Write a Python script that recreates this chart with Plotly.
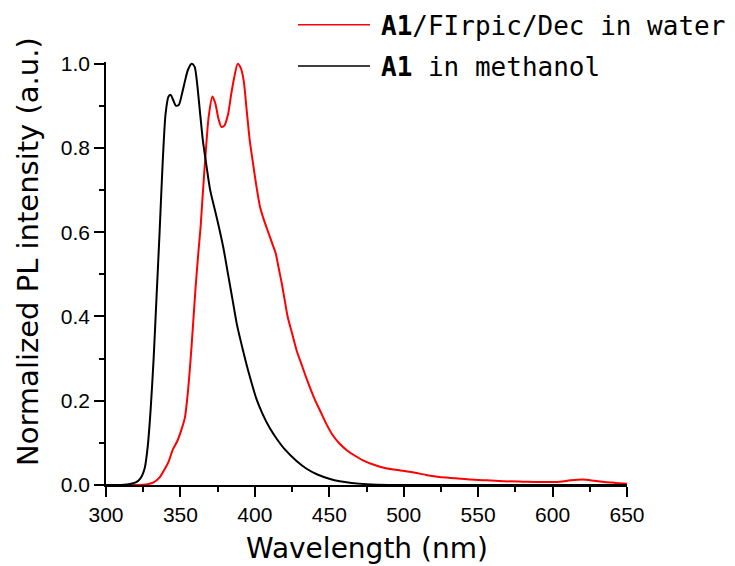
import plotly.graph_objects as go

# ---- data ----
wl_methanol = [300, 310, 314, 317, 320, 323, 326, 328, 330, 332, 334, 336, 338, 340, 342, 343.5,
               345, 347, 349, 351, 353, 355, 357.5, 359.5, 361, 363, 365, 367, 370, 373, 376, 379,
               382, 385, 388, 392, 396, 401, 405, 410, 415, 420, 428, 435, 442, 450, 457, 465, 475,
               490, 520, 560, 600, 650]
pl_methanol = [0.0, 0.0, 0.001, 0.003, 0.006, 0.015, 0.04, 0.09, 0.18, 0.30, 0.45, 0.60, 0.76, 0.88,
               0.922, 0.926, 0.915, 0.90, 0.903, 0.928, 0.958, 0.985, 1.0, 0.993, 0.96, 0.89, 0.82,
               0.77, 0.70, 0.655, 0.61, 0.56, 0.50, 0.44, 0.38, 0.32, 0.265, 0.205, 0.17, 0.135,
               0.108, 0.085, 0.057, 0.038, 0.025, 0.015, 0.009, 0.005, 0.002, 0.0, 0.0, 0.0, 0.0, 0.0]

wl_water = [300, 320, 328, 332, 336, 339, 342, 345, 348, 351, 353, 355, 357.5, 360, 362, 363.5,
            365, 367, 369, 371.5, 373.5, 375.5, 377.5, 379.5, 382, 384, 386, 388.5, 390.5, 392.5,
            394.5, 396.5, 398.5, 401, 403.5, 406, 409, 412, 414, 416, 418, 420, 422, 425, 428, 431,
            435, 440, 444, 448, 452, 457, 462, 467, 473, 480, 488, 497, 506, 515, 524, 535, 545,
            556, 567, 580, 595, 605, 612, 620, 628, 635, 642, 650]
pl_water = [0.0, 0.0, 0.002, 0.006, 0.018, 0.035, 0.055, 0.085, 0.105, 0.135, 0.16, 0.22, 0.33,
            0.46, 0.55, 0.61, 0.69, 0.79, 0.875, 0.922, 0.905, 0.87, 0.85, 0.853, 0.88, 0.925,
            0.965, 1.0, 0.99, 0.96, 0.89, 0.82, 0.77, 0.71, 0.66, 0.63, 0.60, 0.57, 0.55, 0.515,
            0.48, 0.44, 0.40, 0.36, 0.32, 0.29, 0.25, 0.205, 0.175, 0.145, 0.12, 0.098, 0.082, 0.07,
            0.058, 0.048, 0.04, 0.035, 0.03, 0.024, 0.019, 0.016, 0.013, 0.011, 0.009, 0.008, 0.007,
            0.008, 0.011, 0.013, 0.01, 0.007, 0.005, 0.003]

series_names = ["<b>A1</b>/FIrpic/Dec in water", "<b>A1</b> in methanol"]
series_colors = ["#ff0000", "#000000"]

x_title = "Wavelength (nm)"
y_title = "Normalized PL intensity (a.u.)"

fig = go.Figure()
fig.add_trace(go.Scatter(x=wl_water, y=pl_water, mode="lines", name=series_names[0],
                         line=dict(color=series_colors[0], width=2, shape="spline", smoothing=0.7),
                         showlegend=False))
fig.add_trace(go.Scatter(x=wl_methanol, y=pl_methanol, mode="lines", name=series_names[1],
                         line=dict(color=series_colors[1], width=2, shape="spline", smoothing=0.7),
                         showlegend=False))

tickfont = dict(family="Liberation Sans, Arial, sans-serif", size=21, color="black")
fig.update_layout(
    width=735, height=566,
    margin=dict(l=106, r=108, t=62, b=81),
    paper_bgcolor="white", plot_bgcolor="white",
    xaxis=dict(range=[300, 650], dtick=50, tick0=300, ticks="outside", ticklen=10, tickwidth=1.5,
               tickcolor="black", showline=True, linecolor="black", linewidth=1.5,
               showgrid=False, zeroline=False, tickfont=tickfont,
               minor=dict(dtick=25, ticks="outside", ticklen=5, tickwidth=1.5, tickcolor="black",
                          showgrid=False)),
    yaxis=dict(range=[0, 1.004], dtick=0.2, tick0=0, tickformat=".1f", ticks="outside", ticklen=10,
               tickwidth=1.5, tickcolor="black", showline=True, linecolor="black", linewidth=1.5,
               showgrid=False, zeroline=False, tickfont=tickfont,
               minor=dict(dtick=0.1, ticks="outside", ticklen=5, tickwidth=1.5, tickcolor="black",
                          showgrid=False)),
)

# axis titles
title_font = dict(family="DejaVu Sans, sans-serif", size=28, color="black")
fig.add_annotation(text=x_title, xref="paper", yref="paper", x=0.5, y=-0.193,
                   xanchor="center", yanchor="bottom", showarrow=False, font=title_font)
fig.add_annotation(text=y_title, xref="paper", yref="paper", x=-0.1507, y=0.552,
                   xanchor="center", yanchor="middle", showarrow=False,
                   font=dict(family="DejaVu Sans, sans-serif", size=29, color="black"),
                   textangle=-90)

# legend drawn manually (long line samples like the original)
legend_font = dict(family="DejaVu Sans Mono, monospace", size=26, color="black")
leg_y = [1.0843, 0.987]
line_y = [1.0879, 0.9905]
for i in range(2):
    fig.add_shape(type="line", xref="paper", yref="paper", x0=0.3685, x1=0.5067,
                  y0=line_y[i], y1=line_y[i], line=dict(color=series_colors[i], width=1.5))
    fig.add_annotation(text=series_names[i], xref="paper", yref="paper", x=0.524, y=leg_y[i],
                       xanchor="left", yanchor="middle", showarrow=False, font=legend_font)

fig.write_html("out.html")
